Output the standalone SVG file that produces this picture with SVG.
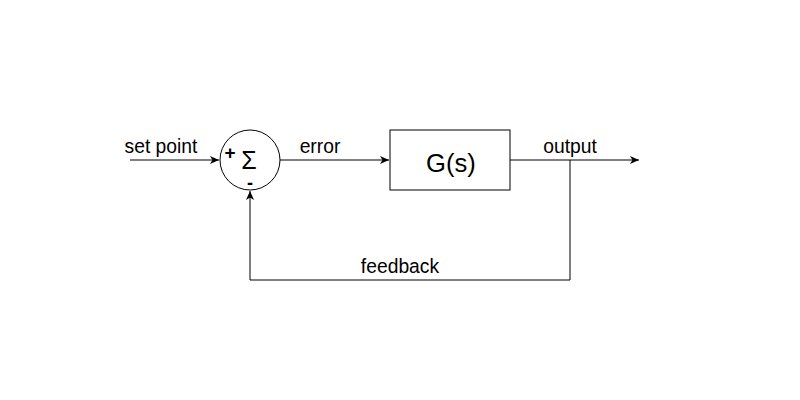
<svg xmlns="http://www.w3.org/2000/svg" width="800" height="400" viewBox="0 0 800 400">
<style>
.ln{fill:none;stroke:#000;stroke-width:1}
.t{font-family:"Liberation Sans",Arial,sans-serif;font-size:19.3px;fill:#000}
</style>
<defs>
<marker id="ah" markerWidth="10" markerHeight="8" refX="9" refY="4" orient="auto" markerUnits="userSpaceOnUse">
<path d="M0,0 L9,4 L0,8 L2.5,4 Z" fill="#000"/>
</marker>
</defs>
<rect width="800" height="400" fill="#fff"/>
<g id="connectors">
<path class="ln" d="M130,160 L219,160" marker-end="url(#ah)"/>
<path class="ln" d="M280,160 L389,160" marker-end="url(#ah)"/>
<path class="ln" d="M510,160 L639,160" marker-end="url(#ah)"/>
<path class="ln" d="M570,160 L570,280 L250,280 L250,191" marker-end="url(#ah)"/>
<text class="t" x="161" y="153" text-anchor="middle">set point</text>
<text class="t" x="320" y="153" text-anchor="middle">error</text>
<text class="t" x="570" y="153" text-anchor="middle">output</text>
<text class="t" x="400" y="273" text-anchor="middle">feedback</text>
</g>
<g id="sum">
<circle class="ln" cx="250" cy="160" r="30"/>
<text class="t" x="249" y="169" text-anchor="middle" style="font-size:25px">Σ</text>
<text class="t" x="230" y="159" text-anchor="middle" style="font-size:19px;font-weight:bold">+</text>
<text class="t" x="250" y="189" text-anchor="middle" style="font-size:18px;font-weight:bold">-</text>
</g>
<g id="plant">
<rect class="ln" x="390" y="130" width="120" height="60"/>
<text class="t" x="451" y="172" text-anchor="middle" style="font-size:25.6px">G(s)</text>
</g>
</svg>
